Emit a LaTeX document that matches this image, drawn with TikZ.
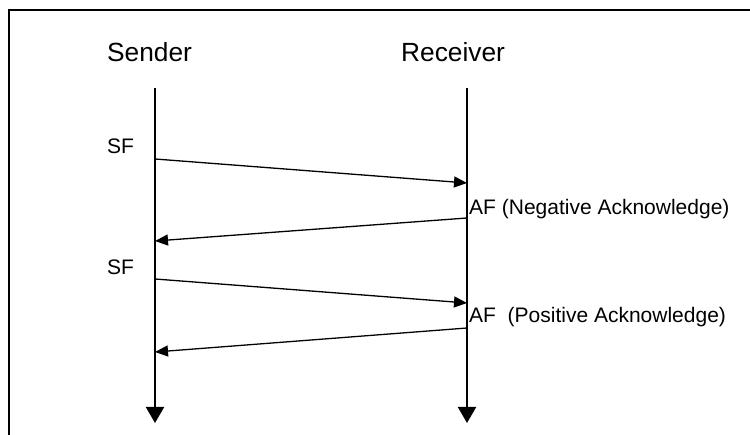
\documentclass[tikz,border=0pt]{standalone}
\usepackage{fontspec}
\setmainfont{Liberation Sans}
\usetikzlibrary{arrows.meta}

\begin{document}
\begin{tikzpicture}[x=1pt, y=-1pt,
    lifeline/.style={line width=2pt, -{Triangle[length=16pt, width=18pt]}},
    msg/.style={line width=1.3pt, -{Triangle[length=13pt, width=11pt]}},
    head/.style={font=\fontsize{26.3}{30}\selectfont, inner sep=0pt, anchor=base west},
    lbl/.style={font=\fontsize{21}{24}\selectfont, inner sep=0pt, anchor=base west}]
    \useasboundingbox (0,0) rectangle (750,435);
    \draw[line width=2pt] (9,436) -- (9,10) -- (751,10);
    % participants
    \node[head] (sender) at (107,62) {Sender};
    \node[head] (receiver) at (401,62) {Receiver};
    \coordinate (sTop) at (155,88);
    \coordinate (sEnd) at (155,423);
    \coordinate (rTop) at (467,88);
    \coordinate (rEnd) at (467,423);
    \draw[lifeline] (sTop) -- (sEnd);
    \draw[lifeline] (rTop) -- (rEnd);
    % messages
    \coordinate (sf1) at (155,159);
    \coordinate (af1) at (467,183);
    \coordinate (nak) at (467,218);
    \coordinate (back1) at (155,241);
    \coordinate (sf2) at (155,279);
    \coordinate (af2) at (467,303);
    \coordinate (ack) at (467,328);
    \coordinate (back2) at (155,352);
    \draw[msg] (sf1) -- (af1);
    \draw[msg] (nak) -- (back1);
    \draw[msg] (sf2) -- (af2);
    \draw[msg] (ack) -- (back2);
    \node[lbl] (sfLabel1) at (107,154) {SF};
    \node[lbl] (sfLabel2) at (107,275) {SF};
    \node[lbl] (afLabel1) at (469,215) {AF (Negative Acknowledge)};
    \node[lbl] (afLabel2) at (469,323) {AF\ \ (Positive Acknowledge)};
\end{tikzpicture}
\end{document}
